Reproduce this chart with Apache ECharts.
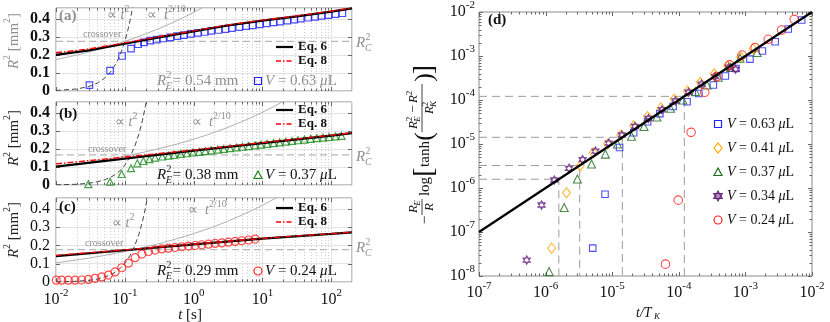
<!DOCTYPE html>
<html>
<head>
<meta charset="utf-8">
<title>R2 vs t</title>
<script src="https://cdn.jsdelivr.net/npm/echarts@6.0.0/dist/echarts.min.js"></script>
<style>
	html, body {margin:0; padding:0; background:#fff;}
	#main {width:830px; height:322px;}
</style>
</head>
<body>
<div id="main"></div>
<script>
	// ---------- panel (a): V = 0.63 uL ----------
	var aPoints = [[0.0306,0.033],[0.061,0.113],[0.0911,0.194],[0.123,0.235],[0.156,0.259],[0.19,0.27],[0.233,0.279],
		[0.29,0.285],[0.36,0.291],[0.46,0.297],[0.58,0.304],[0.72,0.31],[0.91,0.317],[1.15,0.322],[1.45,0.327],[1.8,0.333],
		[2.3,0.338],[2.9,0.343],[3.6,0.348],[4.6,0.354],[5.8,0.359],[7.2,0.364],[9.1,0.369],[11.5,0.375],[14.5,0.38],[18,0.385],
		[23,0.39],[29,0.396],[36,0.401],[46,0.406],[58,0.411],[72,0.416],[91,0.421],[115,0.426],[145,0.431]];
	var aEq6 = [[0.01,0.2],[0.03,0.225],[0.1,0.262],[0.3,0.296],[1,0.33],[3,0.362],[10,0.39],[30,0.412],[100,0.44],[200,0.458]];
	var aEq8 = [[0.01,0.212],[0.03,0.233],[0.1,0.267],[0.3,0.3],[1,0.333],[3,0.365],[10,0.393],[30,0.415],[100,0.443],[200,0.46]];
	var aT2 = [[0.01,0.003],[0.02,0.011],[0.03,0.025],[0.04,0.044],[0.05,0.069],[0.06,0.099],[0.07,0.135],[0.08,0.176],[0.09,0.223],[0.1,0.275],[0.11,0.333],[0.12,0.396],[0.13,0.465]];
	var aT02 = [[0.01,0.174],[0.02,0.199],[0.03,0.216],[0.05,0.239],[0.07,0.256],[0.1,0.275],[0.15,0.298],[0.2,0.316],[0.3,0.343],[0.5,0.38],[0.7,0.406],[1,0.436],[1.2,0.452],[1.35,0.463]];
	var aRc = 0.275;

	// ---------- panel (b): V = 0.37 uL ----------
	var bPoints = [[0.0295,0.005],[0.061,0.018],[0.09,0.061],[0.123,0.093],[0.152,0.12],[0.186,0.133],[0.228,0.143],[0.275,0.152],
		[0.35,0.158],[0.43,0.163],[0.52,0.167],[0.65,0.172],[0.8,0.176],[0.98,0.18],[1.2,0.184],[1.48,0.188],[1.8,0.192],[2.24,0.196],
		[2.75,0.2],[3.4,0.204],[4.2,0.208],[5.1,0.212],[6.3,0.216],[7.8,0.22],[9.5,0.224],[11.7,0.228],[14.5,0.232],[17.8,0.236],
		[21.9,0.24],[26.9,0.244],[33,0.248],[40.7,0.252],[50,0.256],[61.7,0.26],[75.9,0.263],[93,0.266],[115,0.269],[141,0.272]];
	var bEq6 = [[0.01,0.102],[0.1,0.146],[1,0.19],[10,0.232],[100,0.274],[200,0.287]];
	var bEq8 = [[0.01,0.117],[0.1,0.155],[1,0.194],[10,0.235],[100,0.276],[200,0.289]];
	var bT2 = [[0.01,0.001],[0.02,0.004],[0.03,0.01],[0.04,0.018],[0.05,0.028],[0.06,0.04],[0.07,0.054],[0.08,0.07],[0.09,0.089],[0.1,0.11],[0.12,0.158],[0.14,0.216],[0.16,0.282],[0.18,0.356],[0.2,0.44],[0.21,0.485]];
	var bT02 = [[0.01,0.101],[0.02,0.116],[0.03,0.126],[0.05,0.139],[0.07,0.149],[0.1,0.16],[0.15,0.174],[0.2,0.184],[0.3,0.2],[0.5,0.221],[0.7,0.236],[1,0.254],[1.5,0.275],[2,0.292],[3,0.316],[5,0.351],[7,0.375],[10,0.403],[15,0.437],[20,0.463]];
	var bRc = 0.167;

	// ---------- panel (c): V = 0.24 uL ----------
	var cPoints = [[0.0101,0.01],[0.0121,0.01],[0.0151,0.01],[0.0189,0.01],[0.0236,0.011],[0.0295,0.014],[0.0369,0.02],[0.0462,0.028],
		[0.0577,0.038],[0.0721,0.055],[0.0903,0.078],[0.1127,0.103],[0.141,0.133],[0.1766,0.153],[0.2208,0.167],[0.275,0.175],
		[0.344,0.181],[0.43,0.185],[0.538,0.189],[0.673,0.193],[0.84,0.197],[1.05,0.2],[1.31,0.204],[1.64,0.207],[2.05,0.211],
		[2.57,0.214],[3.2,0.218],[4.0,0.222],[5.0,0.226],[6.27,0.23],[7.85,0.235]];
	var cEq6 = [[0.01,0.142],[0.1,0.174],[1,0.206],[10,0.238],[100,0.264],[200,0.272]];
	var cEq8 = [[0.01,0.146],[0.1,0.176],[1,0.207],[10,0.239],[100,0.265],[200,0.273]];
	var cT2 = [[0.01,0.001],[0.02,0.004],[0.03,0.009],[0.04,0.016],[0.05,0.026],[0.06,0.037],[0.07,0.05],[0.08,0.065],[0.09,0.083],[0.1,0.102],[0.12,0.147],[0.14,0.2],[0.16,0.261],[0.18,0.33],[0.2,0.408],[0.22,0.494]];
	var cT02 = [[0.01,0.105],[0.02,0.121],[0.03,0.131],[0.05,0.145],[0.07,0.156],[0.1,0.167],[0.15,0.181],[0.2,0.192],[0.3,0.208],[0.5,0.231],[0.7,0.247],[1,0.265],[1.5,0.287],[2,0.304],[3,0.33],[5,0.366],[7,0.391],[10,0.42],[15,0.456],[16,0.461]];
	var cRc = 0.177;

	// ---------- panel (d) ----------
	var dV063 = [[5.1e-6,4.3e-8],[7.8e-6,7.2e-7],[1.29e-5,8.3e-6],[2.1e-5,1.8e-5],[3.4e-5,3.2e-5],[5.2e-5,4.9e-5],[8.2e-5,7.1e-5],
		[1.33e-4,9.1e-5],[2.0e-4,1.4e-4],[3.3e-4,2.2e-4],[5.0e-4,3.5e-4],[7.2e-4,5.2e-4],[1.17e-3,8.5e-4],[1.8e-3,1.3e-3],
		[2.8e-3,2.1e-3],[4.4e-3,4.1e-3],[7.0e-3,6.6e-3]];
	var dV041 = [[1.23e-6,4.3e-8],[2.06e-6,7.8e-7],[3.3e-6,3.2e-6],[5.2e-6,6.3e-6],[8.5e-6,1.0e-5],[1.35e-5,1.6e-5],[2.1e-5,2.6e-5],
		[3.4e-5,4.2e-5],[5.4e-5,6.6e-5],[8.5e-5,1.05e-4],[1.35e-4,1.6e-4],[2.1e-4,2.5e-4],[3.4e-4,3.9e-4],[5.4e-4,6.0e-4],
		[8.5e-4,9.5e-4],[1.3e-3,1.45e-3]];
	var dV037 = [[1.13e-6,1.26e-8],[1.9e-6,3.6e-7],[3.0e-6,1.6e-6],[4.9e-6,3.5e-6],[7.9e-6,5.9e-6],[1.2e-5,1.0e-5],[1.95e-5,1.5e-5],
		[3.0e-5,2.5e-5],[4.7e-5,4.1e-5],[7.5e-5,6.5e-5],[1.15e-4,1.0e-4],[1.78e-4,1.55e-4],[2.65e-4,2.2e-4],[3.9e-4,3.3e-4],
		[6.0e-4,5.5e-4],[8.3e-4,8.9e-4],[1.5e-3,1.2e-3]];
	var dV034 = [[5.2e-7,2.3e-8],[8.7e-7,4.1e-7],[1.35e-6,1.52e-6],[2.25e-6,2.8e-6],[3.6e-6,4.4e-6],[5.6e-6,6.9e-6],[8.9e-6,1.05e-5],
		[1.4e-5,1.6e-5],[2.2e-5,2.5e-5],[3.5e-5,3.8e-5],[5.6e-5,6.0e-5],[8.9e-5,9.5e-5],[1.4e-4,1.5e-4],[2.2e-4,2.3e-4],
		[3.5e-4,3.4e-4],[5.6e-4,5.5e-4],[7.1e-4,5.0e-4]];
	var dV024 = [[6.3e-5,1.86e-8],[9.8e-5,5.3e-7],[1.53e-4,1.84e-5],[2.45e-4,1.5e-4],[3.7e-4,3.4e-4],[5.8e-4,6.3e-4],[8.9e-4,1.05e-3],
		[1.4e-3,1.55e-3],[2.2e-3,2.4e-3],[3.5e-3,3.9e-3],[5.4e-3,6.8e-3]];
	var dFit = [[1e-7,1e-7],[1e-2,1e-2]];
	var dDropX = [1.58e-6, 3.25e-6, 1.42e-5, 1.21e-4];
	var dDropY = [1.58e-6, 3.25e-6, 1.42e-5, 1.21e-4];

	// tick positions
	var tDecades = [0.01, 0.1, 1, 10, 100];
	var dXDecades = [1e-7, 1e-6, 1e-5, 1e-4, 1e-3, 1e-2];
	var dYDecades = [1e-8, 1e-7, 1e-6, 1e-5, 1e-4, 1e-3, 1e-2];
	var r2Ticks = [0.1, 0.2, 0.3, 0.4];

	var SER = 'Liberation Serif';
	var GRAY = '#8f8f8f';
	var FRAME = '#8a8a8a';
	var STAR_FILL = 'rgba(90,40,100,0.3)';

	function minorsOf(decades, maxV) {
		var out = [];
		decades.forEach(function (d) {
			for (var k = 2; k <= 9; k++) { if (d * k < maxV) out.push(d * k); }
		});
		return out;
	}
	function decadeLabel(v) {
		var e = Math.log10(v), r = Math.round(e);
		if (Math.abs(e - r) > 1e-6) return '';
		return '{b|10}{e|' + (r < 0 ? '-' + (-r) : r) + '}';
	}
	var supRich = {
		b: {fontFamily: SER, fontSize: 16, color: '#111', lineHeight: 24},
		e: {fontFamily: SER, fontSize: 11, color: '#111', verticalAlign: 'top'}
	};

	var tickStroke = {stroke: '#666', lineWidth: 1};
	function tickRender(minorGrid) {
		return function (params, api) {
			var cs = params.coordSys;
			var kind = api.value(2);
			var p = api.coord([api.value(0), api.value(1)]);
			var ch = [];
			if (kind < 2) {
				var len = kind === 0 ? 4 : 2.5;
				var x = Math.round(p[0]) + 0.5;
				if (kind === 1 && minorGrid) {
					ch.push({type: 'line', shape: {x1: x, y1: cs.y, x2: x, y2: cs.y + cs.height}, style: {stroke: '#cccccc', lineWidth: 1, lineDash: [1, 2]}});
				}
				ch.push({type: 'line', shape: {x1: x, y1: cs.y + cs.height, x2: x, y2: cs.y + cs.height - len}, style: tickStroke});
				ch.push({type: 'line', shape: {x1: x, y1: cs.y, x2: x, y2: cs.y + len}, style: tickStroke});
			} else {
				var len2 = kind === 2 ? 4 : 2.5;
				var y = Math.round(p[1]) + 0.5;
				ch.push({type: 'line', shape: {x1: cs.x, y1: y, x2: cs.x + len2, y2: y}, style: tickStroke});
				ch.push({type: 'line', shape: {x1: cs.x + cs.width, y1: y, x2: cs.x + cs.width - len2, y2: y}, style: tickStroke});
			}
			return {type: 'group', children: ch};
		};
	}

	var grids = [
		{left: 56, top: 8, width: 296, height: 83},
		{left: 56, top: 102, width: 296, height: 83},
		{left: 56, top: 198, width: 296, height: 84},
		{left: 479, top: 12, width: 333, height: 264}
	];
	grids.forEach(function (g) { g.show = true; g.borderColor = FRAME; g.borderWidth = 1; g.backgroundColor = 'transparent'; });

	var xAxes = [], yAxes = [], series = [];
	var panels = [
		{pts: aPoints, eq6: aEq6, eq8: aEq8, t2: aT2, t02: aT02, rc: aRc, color: '#1f1fff', symbol: 'rect', size: 6.5, bold: true},
		{pts: bPoints, eq6: bEq6, eq8: bEq8, t2: bT2, t02: bT02, rc: bRc, color: '#1a8a1a', symbol: 'triangle', size: 7, bold: true},
		{pts: cPoints, eq6: cEq6, eq8: cEq8, t2: cT2, t02: cT02, rc: cRc, color: '#ff2020', symbol: 'circle', size: 8, bold: false}
	];
	panels.forEach(function (p, i) {
		xAxes.push({
			type: 'log', logBase: 10, gridIndex: i, min: 0.01, max: 200,
			axisLine: {show: false}, axisTick: {show: false},
			splitLine: {show: true, lineStyle: {color: '#e3e3e3', width: 1}},
			axisLabel: {show: i === 2, margin: 6, formatter: decadeLabel, rich: supRich}
		});
		yAxes.push({
			type: 'value', gridIndex: i, min: 0, max: 0.46, interval: 0.1,
			axisLine: {show: false}, axisTick: {show: false},
			splitLine: {show: true, lineStyle: {color: '#e3e3e3', width: 1}},
			axisLabel: {
				margin: 6, fontFamily: SER, fontSize: 16, color: '#111', fontWeight: p.bold ? 'bold' : 'normal',
				formatter: function (v) {
					if (v > 0.41 || Math.abs(v * 10 - Math.round(v * 10)) > 1e-6) return '';
					return v === 0 ? '0' : v.toFixed(1);
				}
			}
		});
		var tickData = tDecades.map(function (v) { return [v, 0, 0]; })
			.concat(minorsOf(tDecades, 200).map(function (v) { return [v, 0, 1]; }))
			.concat(r2Ticks.map(function (v) { return [0.01, v, 2]; }));
		series.push({type: 'custom', xAxisIndex: i, yAxisIndex: i, clip: false, silent: true, z: 1,
			renderItem: tickRender(true), data: tickData, encode: {x: 0, y: 1}});
		series.push({type: 'line', xAxisIndex: i, yAxisIndex: i, data: [[0.01, p.rc], [200, p.rc]], showSymbol: false, silent: true, z: 2,
			lineStyle: {color: '#b8b8b8', width: 1.2, type: [7, 4]}});
		series.push({type: 'line', xAxisIndex: i, yAxisIndex: i, data: p.t2, showSymbol: false, silent: true, z: 2,
			lineStyle: {color: '#444', width: 1, type: [5, 3]}});
		series.push({type: 'line', xAxisIndex: i, yAxisIndex: i, data: p.t02, showSymbol: false, silent: true, z: 2,
			lineStyle: {color: '#b0b0b0', width: 1}});
		series.push({type: 'scatter', xAxisIndex: i, yAxisIndex: i, data: p.pts, symbol: p.symbol, symbolSize: p.size, z: 3,
			itemStyle: {color: 'transparent', borderColor: p.color, borderWidth: 1.2}});
		series.push({type: 'line', xAxisIndex: i, yAxisIndex: i, data: p.eq6, showSymbol: false, silent: true, z: 4,
			lineStyle: {color: '#000', width: 2.2}});
		series.push({type: 'line', xAxisIndex: i, yAxisIndex: i, data: p.eq8, showSymbol: false, silent: true, z: 5,
			lineStyle: {color: '#ff0000', width: 1.4, type: [6, 2, 1.5, 2]}});
	});

	// panel (d)
	xAxes.push({
		type: 'log', logBase: 10, gridIndex: 3, min: 1e-7, max: 1e-2,
		axisLine: {show: false}, axisTick: {show: false}, splitLine: {show: false},
		axisLabel: {margin: 5, formatter: decadeLabel, rich: supRich}
	});
	yAxes.push({
		type: 'log', logBase: 10, gridIndex: 3, min: 1e-8, max: 1e-2,
		axisLine: {show: false}, axisTick: {show: false}, splitLine: {show: false},
		axisLabel: {margin: 4, formatter: decadeLabel, rich: supRich}
	});
	var dTicks = dXDecades.map(function (v) { return [v, 1e-8, 0]; })
		.concat(minorsOf(dXDecades, 1e-2).map(function (v) { return [v, 1e-8, 1]; }))
		.concat(dYDecades.map(function (v) { return [1e-7, v, 2]; }))
		.concat(minorsOf(dYDecades, 1e-2).map(function (v) { return [1e-7, v, 3]; }));
	series.push({type: 'custom', xAxisIndex: 3, yAxisIndex: 3, clip: false, silent: true, z: 1,
		renderItem: tickRender(false), data: dTicks, encode: {x: 0, y: 1}});
	dDropX.forEach(function (x, k) {
		series.push({type: 'line', xAxisIndex: 3, yAxisIndex: 3, showSymbol: false, silent: true, z: 2,
			data: [[1e-7, dDropY[k]], [x, dDropY[k]], [x, 1e-8]],
			lineStyle: {color: '#9c9c9c', width: 1, type: [8, 5]}});
	});
	var hexagram = 'path://M0,-1L0.866,0.5L-0.866,0.5Z M0,1L0.866,-0.5L-0.866,-0.5Z';
	var dSets = [
		{data: dV063, symbol: 'rect', size: 6.5, stroke: '#2222ff', fill: 'transparent'},
		{data: dV041, symbol: 'diamond', size: [8, 10], stroke: '#ffa500', fill: 'transparent'},
		{data: dV037, symbol: 'triangle', size: 8, stroke: '#1e6b1e', fill: 'transparent'},
		{data: dV034, symbol: hexagram, size: 8.5, stroke: '#6a2480', fill: STAR_FILL},
		{data: dV024, symbol: 'circle', size: 8.5, stroke: '#ff2020', fill: 'transparent'}
	];
	dSets.forEach(function (s) {
		series.push({type: 'scatter', xAxisIndex: 3, yAxisIndex: 3, data: s.data, symbol: s.symbol, symbolSize: s.size,
			symbolKeepAspect: true, z: 3, itemStyle: {color: s.fill, borderColor: s.stroke, borderWidth: 1.1}});
	});
	series.push({type: 'line', xAxisIndex: 3, yAxisIndex: 3, data: dFit, showSymbol: false, silent: true, z: 4,
		lineStyle: {color: '#000', width: 2.2}});

	// ---------- annotation helpers ----------
	function rich(size, color) {
		return {
			n: {fontFamily: SER, fontSize: size, fill: color, lineHeight: size * 1.5},
			i: {fontFamily: SER, fontSize: size, fill: color, fontStyle: 'italic', lineHeight: size * 1.5},
			e: {fontFamily: SER, fontSize: Math.round(size * 0.68), fill: color, verticalAlign: 'top'},
			ei: {fontFamily: SER, fontSize: Math.round(size * 0.68), fill: color, fontStyle: 'italic', verticalAlign: 'top'}
		};
	}
	function txt(x, y, s, o) {
		return {type: 'text', x: x, y: y, silent: true, z: 100,
			style: Object.assign({text: s, fill: '#111', fontFamily: SER, fontSize: 15, align: 'left', verticalAlign: 'middle'}, o || {})};
	}
	function rtxt(x, y, s, size, color, align) {
		return txt(x, y, s, {rich: rich(size, color), align: align || 'left'});
	}
	// R with stacked sub / sup, then trailing text
	function rSubSup(x, y, sub, tail, size, color) {
		var out = [
			txt(x, y, 'R', {fontStyle: 'italic', fontSize: size, fill: color}),
			txt(x + size * 0.64, y - size * 0.38, '2', {fontSize: size * 0.66, fill: color}),
			txt(x + size * 0.6, y + size * 0.36, sub, {fontStyle: 'italic', fontSize: size * 0.66, fill: color})
		];
		if (tail) out.push(txt(x + size * 1.05, y, tail, {fontSize: size, fill: color}));
		return out;
	}
	function legLine(x, y, color, width, dash) {
		return {type: 'line', silent: true, z: 100, shape: {x1: x, y1: y, x2: x + 17, y2: y},
			style: {stroke: color, lineWidth: width, lineDash: dash || null}};
	}
	function markerShape(kind, x, y, color) {
		var st = {fill: 'none', stroke: color, lineWidth: 1.2};
		if (kind === 'rect') return {type: 'rect', z: 100, silent: true, shape: {x: x - 3.5, y: y - 3.5, width: 7, height: 7}, style: st};
		if (kind === 'triangle') return {type: 'polygon', z: 100, silent: true, shape: {points: [[x, y - 4], [x + 4, y + 3.5], [x - 4, y + 3.5]]}, style: st};
		if (kind === 'circle') return {type: 'circle', z: 100, silent: true, shape: {cx: x, cy: y, r: 4}, style: st};
		if (kind === 'diamond') return {type: 'polygon', z: 100, silent: true, shape: {points: [[x, y - 5], [x + 4, y], [x, y + 5], [x - 4, y]]}, style: st};
		return {type: 'group', z: 100, silent: true, children: [
			{type: 'polygon', shape: {points: [[x, y - 5], [x + 4.3, y + 2.5], [x - 4.3, y + 2.5]]}, style: {fill: STAR_FILL, stroke: color, lineWidth: 1.1}},
			{type: 'polygon', shape: {points: [[x, y + 5], [x + 4.3, y - 2.5], [x - 4.3, y - 2.5]]}, style: {fill: STAR_FILL, stroke: color, lineWidth: 1.1}}
		]};
	}
	function yName(x, y, color) {
		return {type: 'group', x: x, y: y, rotation: Math.PI / 2, silent: true, z: 100, children: [
			txt(0, 0, '{i|R}{e|2}{n| [mm}{e|2}{n|]}', {rich: rich(15, color), align: 'center'})
		]};
	}

	var g = [];
	var panelText = [
		{lab: '(a)', labC: GRAY, labY: 16, p2: [107, 15], p210: [147, 15], cross: [83, 34], re: '= 0.54 mm', reY: 81, reC: GRAY,
			mk: 'rect', mkC: '#1f1fff', v: '0.63', vC: GRAY, eqY: 47, rcY: 43, nameY: 41, nameC: GRAY},
		{lab: '(b)', labC: '#111', labY: 114, p2: [115, 122], p210: [192, 122], cross: [88, 149], re: '= 0.38 mm', reY: 175, reC: '#111',
			mk: 'triangle', mkC: '#1a8a1a', v: '0.37', vC: '#111', eqY: 110, rcY: 157, nameY: 138, nameC: '#222'},
		{lab: '(c)', labC: '#111', labY: 207, p2: [112, 223], p210: [188, 210], cross: [85, 243], re: '= 0.29 mm', reY: 271, reC: '#111',
			mk: 'circle', mkC: '#ff2020', v: '0.24', vC: '#111', eqY: 208, rcY: 248, nameY: 230, nameC: '#222'}
	];
	panelText.forEach(function (t) {
		g.push(txt(59, t.labY, t.lab, {fontWeight: 'bold', fontSize: 15, fill: t.labC}));
		g.push(rtxt(t.p2[0], t.p2[1], '{n|\u221d }{i|t}{e|2}', 14, GRAY));
		g.push(rtxt(t.p210[0], t.p210[1], '{n|\u221d  }{i|t}{e|2/10}', 14, GRAY));
		g.push(txt(t.cross[0], t.cross[1], 'crossover', {fontSize: 10, fill: GRAY}));
		g = g.concat(rSubSup(157, t.reY, 'E', t.re, 15, t.reC));
		g.push(markerShape(t.mk, 258, t.reY, t.mkC));
		g.push(rtxt(265, t.reY, '{i|V}{n| = ' + t.v + ' }{i|\u03bc}{n|L}', 15, t.vC));
		g.push(legLine(276, t.eqY, '#000', 2.2));
		g.push(txt(298, t.eqY, 'Eq. 6', {fontWeight: 'bold', fontSize: 13}));
		g.push(legLine(276, t.eqY + 14, '#ff0000', 1.4, [5, 2, 1.5, 2]));
		g.push(txt(298, t.eqY + 14, 'Eq. 8', {fontWeight: 'bold', fontSize: 13}));
		g = g.concat(rSubSup(356, t.rcY, 'C', null, 15, GRAY));
		g.push(yName(14, t.nameY, t.nameC));
	});
	g.push(rtxt(190, 315, '{i|t}{n| [s]}', 15, '#111', 'center'));

	// panel (d) annotations
	g.push(txt(488, 20, '(d)', {fontWeight: 'bold', fontSize: 15}));
	var dLeg = [['rect', '#2222ff', '0.63'], ['diamond', '#ffa500', '0.41'], ['triangle', '#1e6b1e', '0.37'], ['star', '#6a2480', '0.34'], ['circle', '#ff2020', '0.24']];
	dLeg.forEach(function (l, k) {
		var y = 124 + k * 24;
		g.push(markerShape(l[0], 718, y, l[1]));
		g.push(rtxt(727, y, '{i|V}{n| = ' + l[2] + ' }{i|\u03bc}{n|L}', 14, '#111'));
	});
	g.push(txt(636, 313, 't/T', {fontStyle: 'italic', fontSize: 14}));
	g.push(txt(654, 317, 'K', {fontStyle: 'italic', fontSize: 9}));

	// y label of (d), built in local (unrotated) coordinates
	var it = {fontStyle: 'italic', fontSize: 13, align: 'center'};
	var sm = {fontSize: 9, align: 'center'};
	var smi = {fontStyle: 'italic', fontSize: 9, align: 'center'};
	var dLab = {type: 'group', x: 425, y: 146, rotation: Math.PI / 2, silent: true, z: 100, children: [
		txt(-74, 0, '\u2212', {fontSize: 15, align: 'center'}),
		txt(-63, -11, 'R', it), txt(-57, -7, 'E', smi),
		{type: 'line', shape: {x1: -69, y1: -3, x2: -53, y2: -3}, style: {stroke: '#111', lineWidth: 0.8}},
		txt(-61, 5, 'R', it),
		txt(-40.5, 0, 'log', {fontSize: 15, align: 'center'}),
		txt(-26, 0, '[', {fontSize: 28, align: 'center'}),
		txt(-8, 0, 'tanh', {fontSize: 15, align: 'center'}),
		txt(9.5, 0, '(', {fontSize: 26, align: 'center'}),
		txt(21, -11, 'R', it), txt(27, -15, '2', sm), txt(27, -7, 'E', smi),
		txt(37, -11, '\u2212', {fontSize: 13, align: 'center'}),
		txt(47, -11, 'R', it), txt(53, -15, '2', sm),
		{type: 'line', shape: {x1: 14, y1: -3, x2: 62, y2: -3}, style: {stroke: '#111', lineWidth: 0.8}},
		txt(36, 5, 'R', it), txt(42, 1, '2', sm), txt(42, 9, 'K', smi),
		txt(68.5, 0, ')', {fontSize: 26, align: 'center'}),
		txt(76.5, 0, ']', {fontSize: 28, align: 'center'})
	]};
	g.push(dLab);

	var chart = echarts.init(document.getElementById('main'));
	chart.setOption({
		animation: false,
		backgroundColor: '#fff',
		grid: grids,
		xAxis: xAxes,
		yAxis: yAxes,
		series: series,
		graphic: g
	});
</script>
</body>
</html>
